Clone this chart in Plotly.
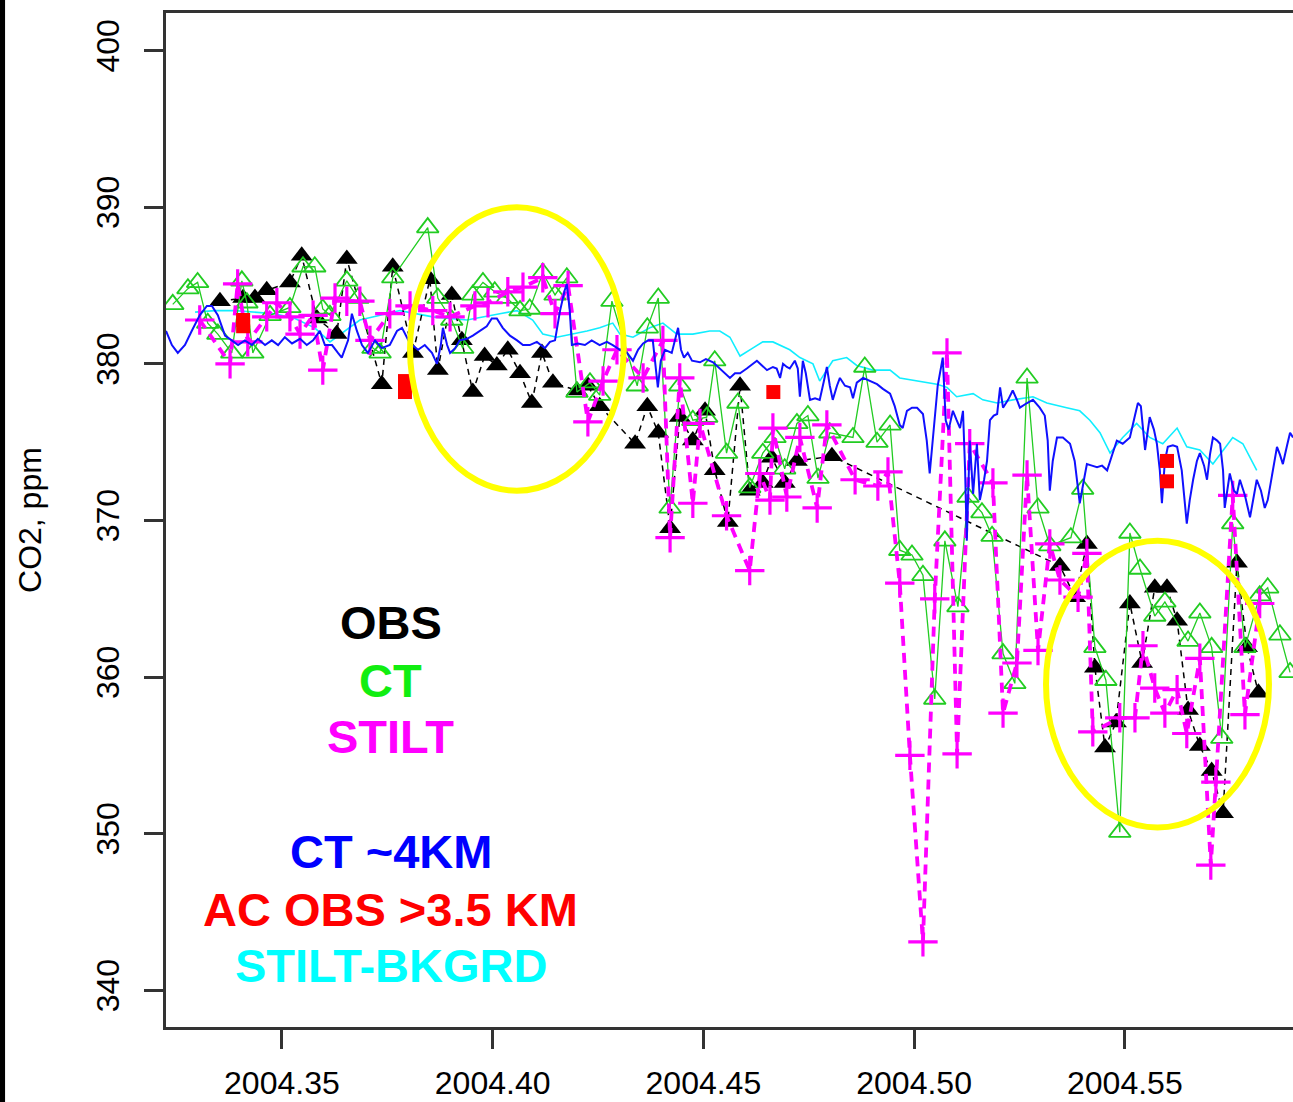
import plotly.graph_objects as go

# ---------------- data (decimal year, CO2 ppm) ----------------
obs_t = [2004.3353, 2004.3408, 2004.3436, 2004.3464, 2004.3519, 2004.3547, 2004.3583, 2004.3630, 2004.3654,
         2004.3737, 2004.3763, 2004.3811, 2004.3851, 2004.3870, 2004.3903, 2004.3927, 2004.3953, 2004.3981,
         2004.4010, 2004.4036, 2004.4065, 2004.4093, 2004.4117, 2004.4143, 2004.4200, 2004.4226, 2004.4254,
         2004.4338, 2004.4367, 2004.4393, 2004.4421, 2004.4444, 2004.4475, 2004.4504, 2004.4527, 2004.4558,
         2004.4587, 2004.4610, 2004.4641, 2004.4662, 2004.4693, 2004.4722, 2004.4805, 2004.5346, 2004.5382,
         2004.5410, 2004.5429, 2004.5453, 2004.5479, 2004.5512, 2004.5541, 2004.5571, 2004.5600, 2004.5624,
         2004.5650, 2004.5678, 2004.5706, 2004.5733, 2004.5766, 2004.5790, 2004.5817]
obs_v = [384.0, 384.2, 384.2, 384.7, 385.2, 386.9, 382.9, 381.9, 386.7,
         378.7, 386.2, 380.7, 385.4, 379.6, 384.4, 381.5, 378.2, 380.5,
         379.9, 380.9, 379.4, 377.5, 380.7, 378.8, 378.3, 378.6, 377.3,
         374.9, 377.3, 375.6, 369.5, 376.6, 375.1, 377.0, 373.2, 369.9,
         378.6, 371.9, 372.4, 374.0, 372.4, 373.8, 374.1, 367.1, 365.1,
         368.5, 360.6, 355.5, 357.1, 364.7, 360.9, 365.7, 365.7, 363.6,
         357.9, 355.6, 354.0, 351.3, 367.3, 361.9, 359.0]

ct_t = [2004.3241, 2004.3277, 2004.3300, 2004.3324, 2004.3348, 2004.3381, 2004.3405, 2004.3417, 2004.3431,
        2004.3472, 2004.3519, 2004.3550, 2004.3578, 2004.3597, 2004.3614, 2004.3654, 2004.3680, 2004.3716,
        2004.3733, 2004.3763, 2004.3846, 2004.3870, 2004.3903, 2004.3929, 2004.3953, 2004.3977, 2004.4005,
        2004.4034, 2004.4065, 2004.4088, 2004.4119, 2004.4148, 2004.4176, 2004.4200, 2004.4231, 2004.4254,
        2004.4283, 2004.4343, 2004.4367, 2004.4393, 2004.4421, 2004.4444, 2004.4475, 2004.4508, 2004.4527,
        2004.4555, 2004.4582, 2004.4610, 2004.4641, 2004.4670, 2004.4693, 2004.4722, 2004.4748, 2004.4772,
        2004.4800, 2004.4855, 2004.4883, 2004.4912, 2004.4943, 2004.4966, 2004.4995, 2004.5021, 2004.5049,
        2004.5073, 2004.5104, 2004.5128, 2004.5161, 2004.5185, 2004.5211, 2004.5239, 2004.5268, 2004.5294,
        2004.5322, 2004.5372, 2004.5400, 2004.5429, 2004.5455, 2004.5488, 2004.5512, 2004.5536, 2004.5571,
        2004.5595, 2004.5650, 2004.5678, 2004.5706, 2004.5730, 2004.5756, 2004.5785, 2004.5820, 2004.5839,
        2004.5868, 2004.5892]
ct_v = [383.8, 384.8, 385.2, 382.6, 381.9, 380.7, 385.3, 383.9, 380.7,
        383.1, 383.6, 386.2, 386.2, 383.5, 383.1, 385.3, 384.2, 381.0,
        380.7, 385.5, 388.7, 384.2, 382.8, 381.0, 384.4, 385.2, 384.6,
        384.2, 383.4, 383.5, 385.8, 384.4, 385.5, 378.2, 378.8, 378.0,
        384.0, 378.6, 382.3, 384.2, 370.8, 378.6, 376.4, 376.6, 380.2,
        374.3, 377.5, 372.1, 374.3, 375.3, 373.3, 376.2, 376.7, 372.7,
        375.6, 375.3, 379.8, 375.0, 376.1, 368.1, 367.8, 366.5, 358.6,
        368.7, 364.5, 371.5, 370.5, 369.0, 361.5, 359.6, 379.1, 370.8,
        368.4, 368.9, 372.0, 361.9, 359.8, 350.1, 369.2, 366.9, 363.9,
        364.8, 362.3, 364.1, 361.9, 356.1, 369.8, 361.9, 365.2, 365.7,
        362.7, 360.3]

stilt_t = [2004.3305, 2004.3377, 2004.3395, 2004.3419, 2004.3464, 2004.3488, 2004.3519, 2004.3543, 2004.3574,
           2004.3597, 2004.3626, 2004.3654, 2004.3685, 2004.3709, 2004.3756, 2004.3804, 2004.3858, 2004.3899,
           2004.3958, 2004.3989, 2004.4036, 2004.4072, 2004.4119, 2004.4148, 2004.4179, 2004.4226, 2004.4262,
           2004.4295, 2004.4357, 2004.4404, 2004.4421, 2004.4444, 2004.4475, 2004.4492, 2004.4555, 2004.4610,
           2004.4634, 2004.4658, 2004.4665, 2004.4698, 2004.4729, 2004.4770, 2004.4793, 2004.4860, 2004.4914,
           2004.4938, 2004.4966, 2004.4990, 2004.5021, 2004.5049, 2004.5078, 2004.5102, 2004.5132, 2004.5187,
           2004.5211, 2004.5244, 2004.5268, 2004.5294, 2004.5322, 2004.5346, 2004.5389, 2004.5410, 2004.5424,
           2004.5488, 2004.5524, 2004.5543, 2004.5571, 2004.5595, 2004.5624, 2004.5647, 2004.5678, 2004.5704,
           2004.5716, 2004.5756, 2004.5785, 2004.5820]
stilt_v = [382.8, 380.0, 385.1, 381.4, 383.0, 383.9, 383.0, 381.9, 383.1,
           379.6, 384.2, 384.0, 384.0, 381.5, 383.2, 383.7, 383.4, 383.0,
           383.7, 383.9, 384.6, 384.9, 385.5, 383.2, 385.0, 376.3, 378.9,
           380.9, 379.1, 381.5, 368.9, 379.1, 371.1, 376.2, 370.3, 366.8,
           373.0, 371.3, 375.9, 371.5, 375.3, 370.8, 376.1, 372.6, 372.2,
           373.1, 366.0, 355.0, 343.1, 365.0, 380.7, 355.1, 374.9, 372.4,
           357.7, 360.9, 372.9, 361.7, 368.5, 366.2, 365.1, 367.9, 356.5,
           357.4, 357.4, 362.0, 359.3, 357.7, 359.2, 356.4, 361.2, 348.0,
           353.3, 371.6, 357.6, 364.7]

ct4km_t = [2004.3225, 2004.3239, 2004.3253, 2004.3270, 2004.3286, 2004.3305, 2004.3322, 2004.3334, 2004.3348,
           2004.3365, 2004.3381, 2004.3396, 2004.3412, 2004.3429, 2004.3443, 2004.3460, 2004.3476, 2004.3491,
           2004.3507, 2004.3524, 2004.3543, 2004.3559, 2004.3574, 2004.3590, 2004.3602, 2004.3619, 2004.3633,
           2004.3642, 2004.3657, 2004.3666, 2004.3678, 2004.3690, 2004.3704, 2004.3721, 2004.3737, 2004.3756,
           2004.3773, 2004.3785, 2004.3804, 2004.3823, 2004.3839, 2004.3856, 2004.3868, 2004.3877, 2004.3882,
           2004.3892, 2004.3899, 2004.3911, 2004.3922, 2004.3939, 2004.3953, 2004.3970, 2004.3986, 2004.3998,
           2004.4010, 2004.4024, 2004.4041, 2004.4058, 2004.4072, 2004.4088, 2004.4105, 2004.4124, 2004.4136,
           2004.4148, 2004.4160, 2004.4171, 2004.4176, 2004.4183, 2004.4188, 2004.4202, 2004.4219, 2004.4235,
           2004.4254, 2004.4271, 2004.4285, 2004.4302, 2004.4319, 2004.4333, 2004.4345, 2004.4357, 2004.4369,
           2004.4380, 2004.4387, 2004.4392, 2004.4399, 2004.4409, 2004.4425, 2004.4435, 2004.4440, 2004.4447,
           2004.4454, 2004.4463, 2004.4473, 2004.4492, 2004.4506, 2004.4523, 2004.4535, 2004.4549, 2004.4563,
           2004.4575, 2004.4587, 2004.4603, 2004.4617, 2004.4627, 2004.4639, 2004.4651, 2004.4665, 2004.4674,
           2004.4682, 2004.4689, 2004.4698, 2004.4705, 2004.4717, 2004.4724, 2004.4729, 2004.4736, 2004.4743,
           2004.4753, 2004.4765, 2004.4776, 2004.4786, 2004.4793, 2004.4800, 2004.4807, 2004.4817, 2004.4824,
           2004.4836, 2004.4848, 2004.4855, 2004.4864, 2004.4879, 2004.4895, 2004.4912, 2004.4926, 2004.4943,
           2004.4954, 2004.4966, 2004.4973, 2004.4983, 2004.4995, 2004.5007, 2004.5021, 2004.5030, 2004.5037,
           2004.5047, 2004.5056, 2004.5068, 2004.5075, 2004.5082, 2004.5092, 2004.5101, 2004.5109, 2004.5116,
           2004.5121, 2004.5125, 2004.5132, 2004.5140, 2004.5149, 2004.5156, 2004.5166, 2004.5173, 2004.5180,
           2004.5189, 2004.5197, 2004.5204, 2004.5211, 2004.5223, 2004.5234, 2004.5244, 2004.5251, 2004.5268,
           2004.5282, 2004.5298, 2004.5310, 2004.5317, 2004.5322, 2004.5329, 2004.5339, 2004.5353, 2004.5370,
           2004.5381, 2004.5393, 2004.5403, 2004.5410, 2004.5422, 2004.5434, 2004.5446, 2004.5458, 2004.5470,
           2004.5481, 2004.5495, 2004.5512, 2004.5524, 2004.5531, 2004.5538, 2004.5548, 2004.5559, 2004.5569,
           2004.5576, 2004.5583, 2004.5588, 2004.5595, 2004.5602, 2004.5614, 2004.5624, 2004.5635, 2004.5647,
           2004.5654, 2004.5662, 2004.5671, 2004.5678, 2004.5688, 2004.5695, 2004.5702, 2004.5709, 2004.5719,
           2004.5726, 2004.5733, 2004.5737, 2004.5745, 2004.5749, 2004.5759, 2004.5766, 2004.5773, 2004.5785,
           2004.5797, 2004.5806, 2004.5813, 2004.5823, 2004.5832, 2004.5839, 2004.5844, 2004.5854, 2004.5861,
           2004.5868, 2004.5875, 2004.5885, 2004.5892, 2004.5899]
ct4km_v = [382.1, 381.2, 380.7, 381.2, 382.1, 383.1, 383.7, 383.7, 383.1,
           381.8, 381.5, 381.2, 381.5, 381.2, 381.6, 381.2, 381.5, 381.2,
           381.7, 381.3, 381.6, 381.2, 381.5, 382.1, 381.2, 381.2, 380.7,
           380.4, 381.5, 383.2, 382.1, 381.2, 380.7, 381.5, 381.0, 381.2,
           382.1, 382.3, 381.3, 380.9, 381.2, 380.7, 380.0, 381.2, 382.3,
           381.2, 380.7, 381.0, 381.5, 381.6, 381.8, 382.1, 382.4, 382.9,
           382.9, 382.3, 381.8, 381.5, 381.2, 381.2, 381.4, 381.0, 381.4,
           381.5, 383.4, 384.7, 385.1, 383.4, 381.2, 381.3, 381.2, 381.5,
           381.2, 381.4, 381.2, 380.9, 380.7, 380.2, 380.9, 381.3, 381.5,
           381.5, 379.9, 378.5, 380.2, 380.9, 380.7, 381.8, 382.3, 380.9,
           380.4, 380.7, 380.2, 380.1, 380.3, 380.1, 379.8, 379.4, 379.1,
           379.4, 379.4, 379.7, 380.0, 380.2, 379.9, 379.6, 379.8, 379.7,
           379.1, 380.0, 379.8, 379.7, 380.2, 379.7, 377.9, 380.2, 379.4,
           377.7, 377.8, 377.7, 378.9, 379.8, 378.6, 377.7, 378.6, 379.1,
           378.6, 378.5, 377.8, 378.8, 379.1, 378.9, 378.7, 378.4, 378.1,
           377.3, 376.1, 375.9, 377.0, 377.2, 377.2, 376.8, 375.1, 373.0,
           375.8, 378.6, 380.4, 376.4, 375.8, 377.0, 376.4, 375.9, 377.0,
           373.2, 368.7, 375.1, 371.7, 374.9, 371.3, 372.6, 373.8, 376.4,
           376.7, 376.8, 378.5, 377.2, 377.7, 378.3, 377.7, 377.2, 377.5,
           377.7, 377.2, 376.7, 375.1, 371.9, 373.8, 375.3, 375.3, 374.9,
           373.8, 371.1, 372.6, 373.6, 373.5, 373.4, 373.5, 373.2, 374.2,
           375.1, 374.9, 375.3, 376.7, 377.5, 377.3, 374.5, 376.6, 375.8,
           374.9, 373.2, 371.1, 373.8, 374.7, 374.8, 374.7, 373.2, 369.8,
           371.3, 372.6, 373.8, 374.3, 373.5, 372.6, 374.2, 375.3, 375.1,
           374.9, 373.2, 370.8, 372.2, 373.0, 371.9, 371.7, 372.6, 371.6,
           370.2, 371.6, 372.6, 371.9, 370.8, 371.3, 372.1, 373.8, 374.7,
           374.2, 373.6, 374.8, 375.6, 375.3]

ac_t = [2004.3408, 2004.3408, 2004.3792, 2004.3792, 2004.4666, 2004.5600, 2004.5600]
ac_v = [382.8, 382.4, 378.9, 378.2, 378.2, 373.8, 372.5]

bkg_t = [2004.3294, 2004.3341, 2004.3389, 2004.3436, 2004.3483, 2004.3531, 2004.3578, 2004.3614, 2004.3649,
         2004.3685, 2004.3733, 2004.3780, 2004.3858, 2004.3939, 2004.4017, 2004.4058, 2004.4095, 2004.4119,
         2004.4152, 2004.4190, 2004.4224, 2004.4254, 2004.4285, 2004.4302, 2004.4333, 2004.4373, 2004.4404,
         2004.4437, 2004.4475, 2004.4515, 2004.4539, 2004.4563, 2004.4587, 2004.4617, 2004.4641, 2004.4665,
         2004.4705, 2004.4729, 2004.4760, 2004.4776, 2004.4807, 2004.4840, 2004.4864, 2004.4902, 2004.4943,
         2004.4966, 2004.5007, 2004.5054, 2004.5078, 2004.5101, 2004.5140, 2004.5163, 2004.5197, 2004.5234,
         2004.5282, 2004.5315, 2004.5362, 2004.5393, 2004.5417, 2004.5441, 2004.5465, 2004.5495, 2004.5528,
         2004.5559, 2004.5590, 2004.5624, 2004.5647, 2004.5678, 2004.5709, 2004.5756, 2004.5780, 2004.5813]
bkg_v = [383.3, 383.4, 383.4, 383.3, 383.2, 382.9, 382.3, 381.4, 382.1,
         382.8, 383.1, 383.4, 383.0, 382.8, 383.2, 383.4, 382.8, 381.9,
         381.7, 381.9, 382.1, 382.3, 382.6, 381.9, 381.7, 382.3, 382.6,
         381.9, 381.9, 382.1, 382.1, 381.7, 380.5, 381.0, 381.4, 381.4,
         380.9, 380.4, 380.0, 378.9, 380.2, 380.4, 379.9, 379.6, 379.6,
         379.1, 378.9, 378.7, 378.5, 377.9, 378.1, 377.7, 377.5, 377.7,
         377.9, 377.5, 377.2, 377.0, 376.4, 375.6, 374.3, 375.3, 376.2,
         375.3, 374.9, 375.9, 374.7, 374.5, 373.6, 375.3, 374.9, 373.2]

x_ticks = [2004.35, 2004.40, 2004.45, 2004.50, 2004.55]
x_tick_text = ["2004.35", "2004.40", "2004.45", "2004.50", "2004.55"]
y_ticks = [340, 350, 360, 370, 380, 390, 400]
legend_labels = ["OBS", "CT", "STILT", "CT ~4KM", "AC OBS >3.5 KM", "STILT-BKGRD"]

# ---------------- styling ----------------
FONT = "Liberation Sans, Arial, Helvetica, sans-serif"
GREEN = "#22cc22"
MAGENTA = "#ff00ff"
BLUE = "#1010ff"
CYAN = "#10eeff"
RED = "#ff0000"
AXC = "#333333"

fig = go.Figure()

fig.add_trace(go.Scatter(x=bkg_t, y=bkg_v, mode="lines",
                         line=dict(color=CYAN, width=1.6), name="STILT-BKGRD"))
fig.add_trace(go.Scatter(x=obs_t, y=obs_v, mode="lines+markers",
                         line=dict(color="black", width=1.5, dash="6px,5px"),
                         marker=dict(symbol="triangle-up", size=19, color="black"),
                         name="OBS"))
fig.add_trace(go.Scatter(x=ct_t, y=ct_v, mode="lines+markers",
                         line=dict(color=GREEN, width=1.3),
                         marker=dict(symbol="triangle-up-open", size=19, color=GREEN,
                                     line=dict(color=GREEN, width=1.8)),
                         name="CT"))
fig.add_trace(go.Scatter(x=stilt_t, y=stilt_v, mode="lines+markers",
                         line=dict(color=MAGENTA, width=3.8, dash="10px,7px"),
                         marker=dict(symbol="cross-thin", size=21, color=MAGENTA,
                                     line=dict(color=MAGENTA, width=3.2)),
                         name="STILT"))
fig.add_trace(go.Scatter(x=ct4km_t, y=ct4km_v, mode="lines",
                         line=dict(color=BLUE, width=2), name="CT ~4KM"))
fig.add_trace(go.Scatter(x=ac_t, y=ac_v, mode="markers",
                         marker=dict(symbol="square", size=14, color=RED),
                         name="AC OBS >3.5 KM"))

# highlighted regions (yellow ellipses)
ellipses = [(2004.3804, 2004.4311, 371.9, 390.0), (2004.5313, 2004.5842, 350.4, 368.7)]
for x0, x1, y0, y1 in ellipses:
    fig.add_shape(type="circle", xref="x", yref="y", x0=x0, x1=x1, y0=y0, y1=y1,
                  line=dict(color="#ffff00", width=6), layer="above")

# black strip at the left edge of the picture
fig.add_shape(type="rect", xref="paper", yref="paper", x0=-0.1480, x1=-0.1428,
              y0=-0.08, y1=1.02, fillcolor="black", line=dict(width=0), layer="above")

# text legend
leg_colors = ["black", "#11ee11", MAGENTA, "#0000ff", RED, "#00ffff"]
leg_y = [0.3994, 0.3422, 0.2860, 0.1726, 0.1154, 0.0611]
for txt, col, yy in zip(legend_labels, leg_colors, leg_y):
    fig.add_annotation(text="<b>%s</b>" % txt, xref="paper", yref="paper", x=0.1996, y=yy,
                       showarrow=False, xanchor="center", yanchor="middle",
                       font=dict(family=FONT, size=47, color=col))

fig.add_annotation(text="CO2, ppm", xref="paper", yref="paper", x=-0.1207, y=0.5,
                   textangle=-90, showarrow=False, xanchor="center", yanchor="middle",
                   font=dict(family=FONT, size=32, color="black"))

fig.update_layout(
    width=1293, height=1102, autosize=False,
    margin=dict(l=166, r=0, t=13, b=75, autoexpand=False),
    paper_bgcolor="white", plot_bgcolor="white",
    showlegend=False,
    font=dict(family=FONT, size=32, color="black"),
    xaxis=dict(range=[2004.3225, 2004.5899], tickvals=x_ticks, ticktext=x_tick_text,
               ticks="outside", ticklen=19, tickwidth=2.5, tickcolor=AXC,
               showline=True, linecolor=AXC, linewidth=2.5, mirror=True,
               showgrid=False, zeroline=False, ticklabelstandoff=7, automargin=False,
               tickfont=dict(family=FONT, size=32, color="black")),
    yaxis=dict(range=[337.66, 402.4], tickvals=y_ticks,
               ticks="outside", ticklen=19, tickwidth=2.5, tickcolor=AXC,
               showline=True, linecolor=AXC, linewidth=2.5, mirror=False,
               showgrid=False, zeroline=False, tickangle=-90, ticklabelstandoff=12,
               automargin=False,
               tickfont=dict(family=FONT, size=32, color="black")),
)

fig.write_html("out.html")
